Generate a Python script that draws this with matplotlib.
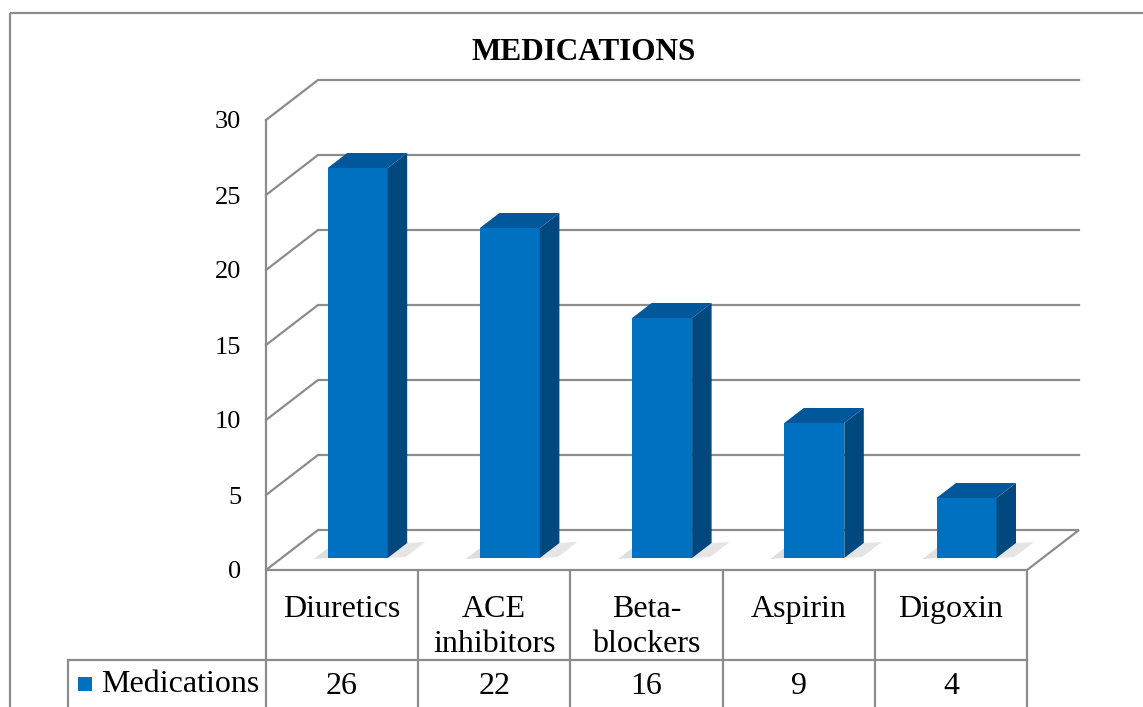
import numpy as np
import matplotlib.pyplot as plt
from matplotlib.patches import Polygon, Rectangle

# Donnees
categories = ['Diuretics', 'ACE\ninhibitors', 'Beta-\nblockers', 'Aspirin', 'Digoxin']
values = [26, 22, 16, 9, 4]
yticks = [0, 5, 10, 15, 20, 25, 30]
series_name = 'Medications'
title = 'MEDICATIONS'

# Couleurs
c_front = '#0070c0'
c_top = '#00579a'
c_side = '#00487e'
c_grid = '#8c8c8c'

W, H = 1143, 707
fig = plt.figure(figsize=(W/100, H/100), dpi=100)

# calque en pixels pour le cadre et le tableau
bg = fig.add_axes([0, 0, 1, 1])
bg.set_xlim(0, W)
bg.set_ylim(H, 0)
bg.axis('off')

# axes du graphique : x en categories, y en valeurs
x0, x1 = 266, 1027
y0, y1 = 570, 120
ax = fig.add_axes([x0/W, (H-y0)/H, (x1-x0)/W, (y0-y1)/H])
n = len(categories)
ax.set_xlim(0, n)
ax.set_ylim(0, 30)
for s in ax.spines.values():
    s.set_visible(False)
ax.patch.set_visible(False)
ax.set_xticks([])
ax.set_yticks(yticks)
ax.tick_params(axis='y', length=0, pad=18)
for lab in ax.get_yticklabels():
    lab.set_fontfamily('Liberation Serif')
    lab.set_fontsize(19)

# profondeur (decalage du mur du fond) en unites de donnees
px_x = n / (x1 - x0)
px_y = 30 / (y0 - y1)
DX, DY = 52 * px_x, 40 * px_y

# grille : diagonale gauche + ligne du mur du fond
for t in yticks[1:]:
    ax.plot([0, DX, n + DX], [t, t + DY, t + DY], color=c_grid, lw=1.6,
            clip_on=False, zorder=1)
# sol
ax.add_patch(Polygon([(0, 0), (n, 0), (n + DX, DY), (DX, DY)], closed=True,
                     facecolor='white', edgecolor=c_grid, lw=1.6,
                     clip_on=False, zorder=1))
ax.plot([0, 0], [0, 30], color=c_grid, lw=1.6, clip_on=False, zorder=1)

# barres 3D
bw = 60 * px_x
f0, f1 = 0.3, 0.675
for i, v in enumerate(values):
    xc = i + 0.5 + f0 * DX
    yb = f0 * DY
    xl, xr = xc - bw/2, xc + bw/2
    ddx, ddy = (f1 - f0) * DX, (f1 - f0) * DY
    # ombre au sol
    ax.add_patch(Polygon([(xl - 14*px_x, yb - 1*px_y), (xl, yb), (xl + ddx, yb + ddy),
                          (xl - 14*px_x + ddx, yb + ddy - 1*px_y)],
                         closed=True, facecolor='#c8c8c8', edgecolor='none',
                         alpha=0.6, clip_on=False, zorder=2))
    ax.add_patch(Polygon([(xr, yb), (xr + 18*px_x, yb + 1*px_y),
                          (xr + 18*px_x + ddx, yb + ddy + 1*px_y), (xr + ddx, yb + ddy)],
                         closed=True, facecolor='#d4d4d4', edgecolor='none',
                         alpha=0.6, clip_on=False, zorder=2))
    ax.bar(xc, v, width=bw, bottom=yb, color=c_front, edgecolor='none',
           zorder=3, clip_on=False)
    ax.add_patch(Polygon([(xr, yb), (xr + ddx, yb + ddy), (xr + ddx, yb + v + ddy),
                          (xr, yb + v)], closed=True, facecolor=c_side,
                         edgecolor='none', clip_on=False, zorder=3))
    ax.add_patch(Polygon([(xl, yb + v), (xr, yb + v), (xr + ddx, yb + v + ddy),
                          (xl + ddx, yb + v + ddy)], closed=True, facecolor=c_top,
                         edgecolor='none', clip_on=False, zorder=3))

# cadre exterieur
bg.add_patch(Rectangle((10, 13), W - 8, H, fill=False, edgecolor=c_grid, lw=1.6))

bg.text(584, 53, title, ha='center', va='center', fontsize=22.5,
        fontweight='bold', family='Liberation Serif')

# tableau de donnees
col_w = (x1 - x0) / n
row_top, row_mid = 570, 660
for k in range(n + 1):
    xk = x0 + k * col_w
    bg.plot([xk, xk], [row_top, H], color=c_grid, lw=1.6)
bg.plot([68, x1], [row_mid, row_mid], color=c_grid, lw=1.6)
bg.plot([68, 68], [row_mid, H], color=c_grid, lw=1.6)
for i, (c, v) in enumerate(zip(categories, values)):
    xc = x0 + (i + 0.5) * col_w
    bg.text(xc, 595, c, ha='center', va='top', fontsize=23,
            family='Liberation Serif', linespacing=1.25)
    bg.text(xc, 686, str(v), ha='center', va='center', fontsize=23,
            family='Liberation Serif')
bg.add_patch(Rectangle((78, 677), 14, 14, facecolor=c_front, edgecolor='none'))
bg.text(101, 684, series_name, ha='left', va='center', fontsize=23,
        family='Liberation Serif')

fig.savefig('out.png', dpi=100)
